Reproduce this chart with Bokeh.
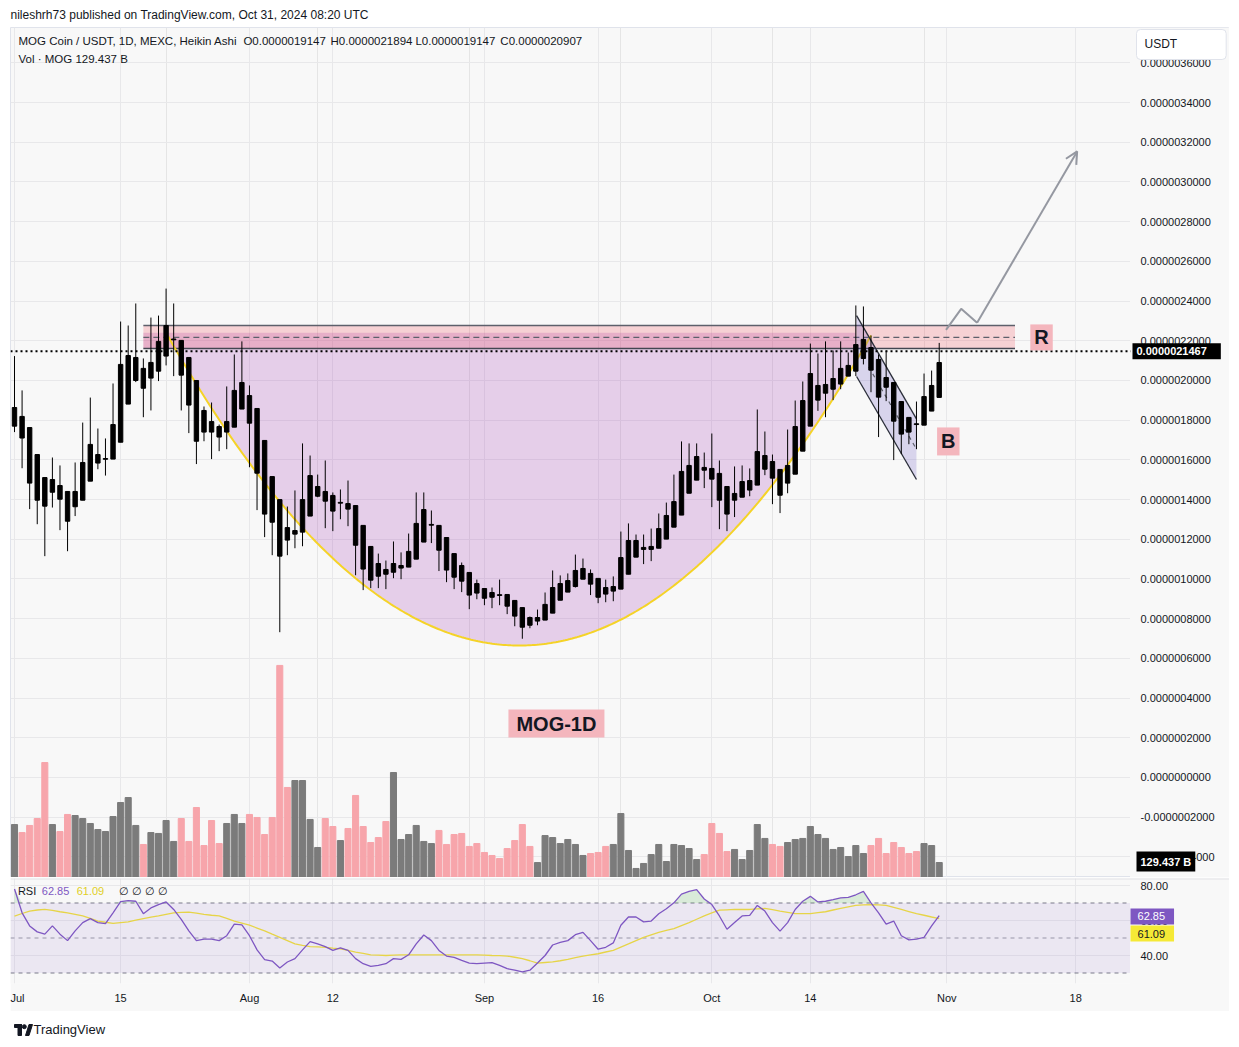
import numpy as np
import pandas as pd
from bokeh.plotting import figure
from bokeh.layouts import column, row
from bokeh.models import (Range1d, FixedTicker, PrintfTickFormatter, Label, Span,
                          BoxAnnotation, Arrow, OpenHead, Grid, Spacer)
from bokeh.embed import file_html
from bokeh.resources import INLINE

FONT = "Liberation Sans"
BG = "#f8f8f8"
TEXT = "#131722"
SCALE = 1e-6  # prices below are in micro-USDT

START = "2024-07-01"
dates = pd.date_range(START, "2024-10-31", freq="D")
days = np.array((dates - pd.Timestamp(START)).days, dtype=float)

# ---- Heikin Ashi candles (x 1e-6 USDT) ----
ha_open = [1.864, 1.819, 1.763, 1.627, 1.511, 1.501, 1.471, 1.441, 1.364, 1.397,
           1.493, 1.584, 1.603, 1.604, 1.689, 1.881, 2.116, 2.061, 2.012, 2.047,
           2.123, 2.209, 2.202, 2.116, 2.000, 1.849, 1.793, 1.768, 1.740, 1.765,
           1.856, 1.924, 1.859, 1.698, 1.516, 1.400, 1.196, 1.226, 1.236, 1.317,
           1.417, 1.441, 1.421, 1.382, 1.352, 1.370, 1.270, 1.164, 1.078, 1.024,
           1.034, 1.055, 1.060, 1.100, 1.186, 1.275, 1.270, 1.209, 1.128, 1.068,
           1.033, 0.929, 0.952, 0.932, 0.921, 0.922, 0.892, 0.856, 0.767, 0.788,
           0.793, 0.828, 0.893, 0.934, 0.962, 0.999, 1.028, 1.003, 0.924, 0.939,
           0.949, 1.024, 1.110, 1.149, 1.149, 1.155, 1.201, 1.261, 1.322, 1.432,
           1.498, 1.562, 1.557, 1.532, 1.466, 1.397, 1.412, 1.448, 1.473, 1.622,
           1.592, 1.552, 1.483, 1.528, 1.644, 1.770, 1.975, 1.936, 1.956, 1.982,
           2.022, 2.047, 2.111, 2.166, 2.106, 2.015, 1.990, 1.894, 1.814, 1.778,
           1.775, 1.846, 1.9147]
ha_high = [2.123, 1.950, 1.763, 1.627, 1.511, 1.612, 1.572, 1.441, 1.587, 1.788,
           1.914, 1.758, 1.708, 1.985, 2.297, 2.277, 2.388, 2.111, 2.317, 2.327,
           2.463, 2.388, 2.202, 2.116, 2.000, 1.869, 1.889, 1.778, 1.970, 2.131,
           2.197, 1.975, 1.859, 1.698, 1.516, 1.400, 1.365, 1.446, 1.683, 1.622,
           1.526, 1.597, 1.436, 1.451, 1.496, 1.370, 1.270, 1.164, 1.128, 1.093,
           1.189, 1.134, 1.229, 1.436, 1.436, 1.345, 1.270, 1.209, 1.128, 1.083,
           1.033, 0.997, 0.952, 0.957, 0.997, 0.922, 0.892, 0.856, 0.811, 0.846,
           0.932, 1.043, 1.018, 1.028, 1.123, 1.103, 1.048, 1.003, 0.997, 1.013,
           1.239, 1.280, 1.224, 1.224, 1.254, 1.330, 1.385, 1.526, 1.693, 1.683,
           1.683, 1.637, 1.733, 1.597, 1.466, 1.567, 1.572, 1.557, 1.854, 1.743,
           1.627, 1.552, 1.753, 1.899, 1.995, 2.186, 2.136, 2.197, 2.151, 2.197,
           2.141, 2.378, 2.373, 2.227, 2.131, 2.151, 1.990, 1.894, 1.814, 1.894,
           2.035, 2.050, 2.1894]
ha_low = [1.740, 1.558, 1.352, 1.276, 1.115, 1.360, 1.246, 1.140, 1.317, 1.397,
          1.493, 1.553, 1.521, 1.604, 1.689, 1.881, 1.992, 1.815, 1.849, 1.997,
          2.076, 2.022, 1.849, 1.735, 1.579, 1.694, 1.604, 1.644, 1.654, 1.765,
          1.856, 1.563, 1.347, 1.211, 1.120, 0.732, 1.120, 1.155, 1.165, 1.317,
          1.412, 1.256, 1.241, 1.301, 1.266, 1.019, 0.944, 0.954, 0.954, 0.949,
          1.004, 0.999, 1.060, 1.100, 1.186, 1.181, 1.040, 0.984, 0.949, 0.934,
          0.848, 0.898, 0.868, 0.853, 0.868, 0.823, 0.762, 0.699, 0.752, 0.767,
          0.793, 0.828, 0.893, 0.934, 0.957, 0.999, 0.919, 0.878, 0.883, 0.888,
          0.949, 1.024, 1.110, 1.075, 1.090, 1.155, 1.201, 1.261, 1.322, 1.432,
          1.498, 1.458, 1.362, 1.251, 1.241, 1.312, 1.412, 1.417, 1.473, 1.523,
          1.377, 1.332, 1.432, 1.528, 1.644, 1.770, 1.847, 1.815, 1.901, 1.956,
          2.022, 2.022, 2.081, 1.941, 1.715, 1.896, 1.599, 1.629, 1.679, 1.654,
          1.775, 1.846, 1.9147]
ha_close = [1.770, 1.710, 1.483, 1.397, 1.367, 1.437, 1.402, 1.291, 1.441, 1.587,
            1.678, 1.627, 1.607, 1.778, 2.081, 2.126, 2.000, 1.961, 2.091, 2.197,
            2.277, 2.205, 2.027, 1.876, 1.694, 1.740, 1.740, 1.715, 1.793, 1.950,
            1.990, 1.785, 1.533, 1.327, 1.286, 1.115, 1.259, 1.244, 1.400, 1.521,
            1.466, 1.392, 1.342, 1.386, 1.380, 1.170, 1.050, 0.994, 1.014, 1.048,
            1.078, 1.068, 1.139, 1.280, 1.350, 1.271, 1.145, 1.045, 1.009, 0.989,
            0.919, 0.977, 0.903, 0.908, 0.917, 0.863, 0.813, 0.757, 0.806, 0.806,
            0.872, 0.957, 0.977, 0.992, 1.043, 1.053, 0.974, 0.908, 0.957, 0.962,
            1.108, 1.194, 1.194, 1.159, 1.164, 1.254, 1.320, 1.390, 1.542, 1.572,
            1.617, 1.548, 1.503, 1.397, 1.327, 1.431, 1.491, 1.496, 1.642, 1.553,
            1.508, 1.422, 1.572, 1.768, 1.899, 2.035, 1.901, 1.980, 2.010, 2.061,
            2.076, 2.181, 2.207, 2.052, 1.916, 1.966, 1.795, 1.730, 1.740, 1.782,
            1.919, 1.975, 2.0907]

# ---- Volume (billions of MOG) and bar direction (1 = grey, 0 = red) ----
volume = [457, 388, 449, 509, 992, 457, 397, 544, 535, 509,
          466, 414, 397, 526, 647, 690, 449, 285, 388, 380,
          492, 311, 509, 311, 604, 276, 492, 293, 466, 544,
          466, 544, 518, 371, 518, 1830, 777, 837, 837, 501,
          259, 509, 440, 319, 423, 708, 440, 302, 345, 483,
          906, 328, 371, 449, 311, 293, 406, 285, 371, 380,
          268, 293, 216, 190, 164, 250, 319, 457, 268, 129,
          362, 345, 293, 328, 285, 190, 207, 216, 268, 285,
          552, 233, 78, 121, 198, 285, 138, 285, 276, 250,
          155, 198, 466, 380, 224, 242, 155, 233, 457, 337,
          285, 268, 302, 328, 337, 440, 371, 337, 242, 259,
          181, 276, 207, 276, 337, 207, 302, 259, 207, 224,
          293, 276, 129.437]
vol_up = [1, 0, 0, 0, 0, 1, 0, 0, 1, 1,
          1, 1, 1, 1, 1, 1, 1, 0, 1, 1,
          1, 1, 0, 0, 0, 0, 0, 0, 1, 1,
          1, 0, 0, 0, 0, 0, 0, 1, 1, 1,
          1, 0, 0, 1, 0, 0, 0, 0, 0, 0,
          1, 1, 1, 1, 1, 1, 0, 0, 0, 0,
          0, 0, 0, 0, 0, 0, 0, 0, 0, 1,
          1, 1, 1, 1, 1, 1, 0, 0, 0, 1,
          1, 1, 1, 1, 1, 1, 1, 1, 1, 1,
          1, 0, 0, 0, 0, 1, 1, 1, 1, 1,
          0, 0, 1, 1, 1, 1, 1, 1, 1, 1,
          1, 1, 1, 0, 0, 0, 0, 0, 0, 0,
          1, 1, 1]

# ---- RSI(14) and its moving average ----
rsi = [78.0, 64.4, 56.9, 53.5, 52.2, 56.9, 52.2, 48.5, 54.1, 58.8,
       61.1, 58.8, 58.2, 64.4, 70.8, 71.4, 71.0, 63.9, 67.2, 69.1,
       70.6, 66.3, 60.7, 54.1, 48.5, 49.4, 49.4, 48.5, 51.3, 57.9,
       57.5, 51.3, 43.2, 37.6, 36.8, 32.9, 36.3, 38.2, 43.2, 47.9,
       46.6, 45.1, 42.9, 44.4, 42.9, 38.2, 35.3, 33.8, 34.4, 35.3,
       38.2, 37.8, 40.4, 46.6, 51.7, 48.5, 42.9, 39.7, 38.9, 37.2,
       35.7, 35.3, 35.7, 35.9, 34.4, 32.5, 31.6, 30.7, 31.6, 35.7,
       40.0, 46.0, 47.5, 48.5, 51.9, 53.2, 48.5, 43.6, 44.7, 47.2,
       57.3, 62.0, 62.0, 59.2, 59.7, 63.9, 66.7, 70.1, 75.1, 76.6,
       77.6, 72.3, 69.1, 62.6, 55.0, 58.8, 62.6, 62.9, 68.6, 65.4,
       58.8, 53.9, 58.8, 66.3, 71.0, 73.8, 70.6, 71.0, 71.9, 72.9,
       73.2, 74.7, 76.6, 70.1, 64.4, 57.9, 59.7, 51.3, 48.9, 49.4,
       50.4, 56.9, 62.85]
rsi_ma = [62.5, 64.0, 65.4, 66.0, 66.3, 65.8, 65.0, 64.4, 63.5, 62.6,
          61.2, 59.7, 59.0, 58.4, 58.8, 59.2, 60.2, 61.1, 61.9, 62.6,
          63.5, 64.4, 64.6, 64.8, 64.2, 63.5, 63.0, 62.6, 61.2, 59.7,
          58.5, 57.3, 55.7, 54.1, 52.2, 50.4, 48.5, 46.6, 45.8, 45.1,
          44.9, 44.7, 44.2, 43.8, 42.9, 41.9, 41.2, 40.4, 40.2, 40.0,
          40.2, 40.4, 40.4, 40.4, 40.4, 40.4, 40.4, 40.4, 40.4, 40.4,
          40.4, 40.4, 40.2, 40.0, 39.9, 39.7, 39.0, 38.2, 37.0, 35.7,
          36.0, 36.3, 37.0, 37.8, 38.8, 39.7, 40.4, 41.0, 42.0, 42.9,
          44.8, 46.6, 48.5, 50.4, 51.8, 53.2, 54.3, 55.4, 57.1, 58.8,
          60.7, 62.6, 64.3, 65.9, 66.1, 66.3, 66.3, 66.3, 66.6, 66.9,
          66.2, 65.4, 64.7, 63.9, 63.9, 63.9, 64.5, 65.0, 66.0, 66.9,
          67.8, 68.6, 68.9, 69.1, 68.9, 68.6, 67.5, 66.3, 65.1, 63.9,
          63.0, 62.0, 61.09]

# ---- axis ticks ----
tick_dates = ["2024-07-01", "2024-07-15", "2024-08-01", "2024-08-12", "2024-09-01",
              "2024-09-16", "2024-10-01", "2024-10-14", "2024-11-01", "2024-11-18"]
tick_labels = ["Jul", "15", "Aug", "12", "Sep", "16", "Oct", "14", "Nov", "18"]
tick_days = [int((pd.Timestamp(d) - pd.Timestamp(START)).days) for d in tick_dates]
price_ticks = [round(-0.4 + 0.2 * k, 1) * SCALE for k in range(21)]
rsi_ticks = [40, 60, 80]
rsi_levels = [70, 50, 30]

last_price = 2.1467
last_volume_label = "129.437 B"
ohlc_texts = ["O0.0000019147", "H0.0000021894", "L0.0000019147", "C0.0000020907"]

# ---- drawings (day index, micro-USDT) ----
ZONE_L, ZONE_R, ZONE_BOT, ZONE_MID, ZONE_TOP = 17.0, 132.0, 2.161, 2.217, 2.277
PURPLE_R, PURPLE_TOP = 111.0, 2.240
CUP_L, CUP_R, CUP_BOTTOM, CUP_RIM = 20.2, 113.0, 0.665, 2.227
CH_X0, CH_X1 = 111.1, 119.0
CH_UP = (2.327, 1.807)
CH_LO = (2.020, 1.501)
ARROW_X = [122.9, 124.9, 127.0, 140.2]
ARROW_Y = [2.255, 2.361, 2.291, 3.154]

# view window (days); the price scale column sits at the right end of it
X_LEFT, X_PLOT_END, X_RIGHT = -0.528, 146.97, 160.30
OHLC_X = [30.2, 41.7, 52.9, 64.1]

ops = np.array(ha_open) * SCALE
his = np.array(ha_high) * SCALE
los = np.array(ha_low) * SCALE
cls = np.array(ha_close) * SCALE
body_top = np.maximum(ops, cls)
body_bot = np.minimum(ops, cls)

X_RANGE = Range1d(X_LEFT, X_RIGHT)
STANDOFF = -89

def style_right_axis(ax):
    ax.major_label_text_font = FONT
    ax.major_label_text_font_size = "11px"
    ax.major_label_text_color = TEXT
    ax.major_tick_line_color = None
    ax.minor_tick_line_color = None
    ax.axis_line_color = None
    ax.major_tick_out = 0
    ax.major_tick_in = 0
    ax.major_label_standoff = STANDOFF

def badge(fig, x, y, text, bg, fg, pad, bold=True, size="11px", **kw):
    fig.add_layout(Label(x=x, y=y, text=text, text_font=FONT, text_font_size=size,
                         text_font_style="bold" if bold else "normal", text_color=fg,
                         text_baseline="middle", text_align="left",
                         background_fill_color=bg, padding=pad, **kw))

# ================= title strip =================
pt = figure(width=1239, height=27, x_range=Range1d(0, 1239), y_range=Range1d(0, 27),
            output_backend="svg", toolbar_location=None, x_axis_location=None,
            y_axis_location=None, min_border=0, background_fill_color="white",
            border_fill_color="white", outline_line_color=None)
pt.grid.visible = False
pt.add_layout(Label(x=10, y=13, text="nileshrh73 published on TradingView.com, Oct 31, 2024 08:20 UTC",
                    text_font=FONT, text_font_size="12px", text_color=TEXT,
                    text_baseline="middle", text_align="left"))

# ================= price pane =================
p = figure(width=1219, height=850, x_range=X_RANGE,
           y_range=Range1d(-0.5038 * SCALE, 3.7783 * SCALE),
           output_backend="svg", toolbar_location=None, x_axis_location=None,
           y_axis_location="right", min_border=0, background_fill_color=BG,
           border_fill_color=BG, outline_line_color="#e0e3eb")
p.extra_y_ranges = {"vol": Range1d(0, 7335)}
p.yaxis.ticker = FixedTicker(ticks=price_ticks)
p.yaxis.formatter = PrintfTickFormatter(format="%.10f")
style_right_axis(p.yaxis)
p.ygrid.grid_line_color = "#e8e8ea"
p.add_layout(Grid(dimension=0, ticker=FixedTicker(ticks=tick_days), grid_line_color="#e8e8ea"))
p.add_layout(BoxAnnotation(left=X_PLOT_END + 0.2, fill_color=BG, fill_alpha=1.0,
                           line_color=None, level="underlay"))

# volume
vol_colors = ["#7b7b7b" if u else "#f7a5ab" for u in vol_up]
p.vbar(x=days, top=volume, bottom=0, width=0.8, color=vol_colors, y_range_name="vol")

# cup fill + resistance zone
t = np.linspace(PURPLE_R, CUP_L, 200)
half = (CUP_R - CUP_L) / 2.0
mid = (CUP_R + CUP_L) / 2.0
arc_y = CUP_BOTTOM + (CUP_RIM - CUP_BOTTOM) * ((t - mid) / half) ** 2
poly_x = [ZONE_L, PURPLE_R] + list(t) + [ZONE_L]
poly_y = [PURPLE_TOP, PURPLE_TOP] + list(np.minimum(arc_y, ZONE_BOT)) + [ZONE_BOT]
p.patch(np.array(poly_x), np.array(poly_y) * SCALE, fill_color="#9c27b0", fill_alpha=0.2, line_color=None)
p.quad(left=ZONE_L, right=ZONE_R, bottom=ZONE_BOT * SCALE, top=ZONE_TOP * SCALE,
       fill_color="#f23645", fill_alpha=0.2, line_color=None)
p.segment(x0=ZONE_L, x1=ZONE_R, y0=ZONE_TOP * SCALE, y1=ZONE_TOP * SCALE, line_color="#5d606b", line_width=1.5)
p.segment(x0=ZONE_L, x1=ZONE_R, y0=ZONE_BOT * SCALE, y1=ZONE_BOT * SCALE, line_color="#434651", line_width=1.5)
p.segment(x0=ZONE_L, x1=ZONE_R, y0=ZONE_MID * SCALE, y1=ZONE_MID * SCALE, line_color="#5d606b",
          line_width=1.2, line_dash="6 4")

# cup arc
ta = np.linspace(CUP_L, CUP_R, 300)
arc = CUP_BOTTOM + (CUP_RIM - CUP_BOTTOM) * ((ta - mid) / half) ** 2
p.line(ta, arc * SCALE, line_color="#f5d327", line_width=2)

# channel (flag)
p.patch([CH_X0, CH_X1, CH_X1, CH_X0],
        np.array([CH_UP[0], CH_UP[1], CH_LO[1], CH_LO[0]]) * SCALE,
        fill_color="#5844bc", fill_alpha=0.2, line_color=None)
p.line([CH_X0, CH_X1], np.array(CH_UP) * SCALE, line_color="#2a2e39", line_width=1.3)
p.line([CH_X0, CH_X1], np.array(CH_LO) * SCALE, line_color="#2a2e39", line_width=1.3)
cm0 = CH_X0 + 1.6
frac = (cm0 - CH_X0) / (CH_X1 - CH_X0)
mid0 = (CH_UP[0] + CH_LO[0]) / 2 + frac * ((CH_UP[1] + CH_LO[1]) / 2 - (CH_UP[0] + CH_LO[0]) / 2)
p.line([cm0, CH_X1], np.array([mid0, (CH_UP[1] + CH_LO[1]) / 2]) * SCALE,
       line_color="#5d606b", line_width=1.2, line_dash="4 4")

# candles
p.segment(x0=days, x1=days, y0=los, y1=his, line_color="black", line_width=1)
p.vbar(x=days, top=body_top, bottom=body_bot, width=0.58, fill_color="black",
       line_color="black", line_width=1)

# last price dotted line
p.segment(x0=X_LEFT, x1=X_PLOT_END + 0.3, y0=last_price * SCALE, y1=last_price * SCALE,
          line_color="black", line_width=2, line_dash="2 3")

# projection arrow
GRAY = "#9598a1"
p.line(ARROW_X[:3], np.array(ARROW_Y[:3]) * SCALE, line_color=GRAY, line_width=2)
p.add_layout(Arrow(end=OpenHead(size=12, line_color=GRAY, line_width=2),
                   x_start=ARROW_X[2], y_start=ARROW_Y[2] * SCALE,
                   x_end=ARROW_X[3], y_end=ARROW_Y[3] * SCALE,
                   line_color=GRAY, line_width=2))

# labels on chart
PINK = "#f4b6bd"
def box_label(fig, x, y, text, size, pad):
    fig.add_layout(Label(x=x, y=y, text=text, text_font=FONT, text_font_size=size,
                         text_font_style="bold", text_color=TEXT, text_align="center",
                         text_baseline="middle", background_fill_color=PINK,
                         padding=pad))

box_label(p, 135.5, 2.217 * SCALE, "R", "20px", dict(left=4, right=4, top=2, bottom=2))
box_label(p, 123.2, 1.693 * SCALE, "B", "20px", dict(left=4, right=4, top=3, bottom=3))
box_label(p, 71.5, 0.272 * SCALE, "MOG-1D", "20px", dict(left=8, right=8, top=3, bottom=3))

# legend text
p.add_layout(Label(x=0.53, y=3.708 * SCALE, text="MOG Coin / USDT, 1D, MEXC, Heikin Ashi",
                   text_font=FONT, text_font_size="11.5px", text_color=TEXT,
                   text_baseline="middle", text_align="left"))
for ox, otxt in zip(OHLC_X, ohlc_texts):
    p.add_layout(Label(x=ox, y=3.708 * SCALE, text=otxt,
                       text_font=FONT, text_font_size="11.5px", text_color=TEXT,
                       text_baseline="middle", text_align="left"))
p.add_layout(Label(x=0.53, y=3.622 * SCALE, text="Vol · MOG  129.437 B",
                   text_font=FONT, text_font_size="11.5px", text_color=TEXT,
                   text_baseline="middle", text_align="left"))

# price-scale badges (anchor = left edge of the badge)
badge(p, 148.03, 3.6927 * SCALE, "USDT", "white", TEXT, dict(left=8, right=49, top=8, bottom=8),
      bold=False, size="12px", border_line_color="#e0e3eb", border_radius=4)
badge(p, 147.50, last_price * SCALE, "0.0000021467", "black", "white",
      dict(left=4, right=14, top=4, bottom=4))
badge(p, 148.03, -0.4232 * SCALE, last_volume_label, "black", "white",
      dict(left=4, right=4, top=4, bottom=4))

# ================= RSI pane =================
r = figure(width=1219, height=134, x_range=X_RANGE, y_range=Range1d(24, 84),
           output_backend="svg", toolbar_location=None, y_axis_location="right",
           min_border_left=0, min_border_right=0, min_border_top=1, min_border_bottom=28,
           background_fill_color=BG, border_fill_color=BG, outline_line_color=None)
r.yaxis.ticker = FixedTicker(ticks=rsi_ticks)
r.yaxis.formatter = PrintfTickFormatter(format="%.2f")
style_right_axis(r.yaxis)
r.xaxis.ticker = FixedTicker(ticks=tick_days)
r.xaxis.major_label_overrides = {d: l for d, l in zip(tick_days, tick_labels)}
r.xaxis.major_label_text_font = FONT
r.xaxis.major_label_text_font_size = "11px"
r.xaxis.major_label_text_color = TEXT
r.xaxis.major_tick_line_color = None
r.xaxis.minor_tick_line_color = None
r.xaxis.axis_line_color = None
r.xaxis.major_tick_out = 0
r.xaxis.major_label_standoff = 8
r.xgrid.grid_line_color = "#e8e8ea"
r.ygrid.grid_line_color = "#e8e8ea"
r.add_layout(BoxAnnotation(left=X_PLOT_END + 0.2, fill_color=BG, fill_alpha=1.0,
                           line_color=None, level="underlay"))

r.add_layout(BoxAnnotation(left=X_LEFT, right=X_PLOT_END + 0.2, bottom=30, top=70,
                           fill_color="#7e57c2", fill_alpha=0.1, line_color=None))
r.segment(x0=X_LEFT, x1=X_PLOT_END + 0.2, y0=rsi_levels, y1=rsi_levels,
          line_color=["#787b86", "#9a9ca5", "#787b86"], line_width=1, line_dash="4 4")
rsi_arr = np.array(rsi)
r.varea(x=days, y1=70, y2=np.maximum(rsi_arr, 70), fill_color="#4caf50", fill_alpha=0.18)
r.line(days, rsi_ma, line_color="#f2e33a", line_width=1.3)
r.line(days, rsi_arr, line_color="#7e57c2", line_width=1.3)
r.add_layout(Span(location=83.8, dimension="width", line_color="#d9d9e0", line_width=1))

lx = [0.45, 3.6, 8.2, 13.8]
r.add_layout(Label(x=lx[0], y=76.6, text="RSI", text_font=FONT, text_font_size="11px",
                   text_color=TEXT, text_baseline="middle"))
r.add_layout(Label(x=lx[1], y=76.6, text="62.85", text_font=FONT, text_font_size="11px",
                   text_color="#7e57c2", text_baseline="middle"))
r.add_layout(Label(x=lx[2], y=76.6, text="61.09", text_font=FONT, text_font_size="11px",
                   text_color="#e0cf1f", text_baseline="middle"))
r.add_layout(Label(x=lx[3], y=76.6, text="∅  ∅  ∅  ∅", text_font=FONT, text_font_size="11px",
                   text_color=TEXT, text_baseline="middle"))
badge(r, 147.24, 62.29, "62.85", "#7e57c2", "white", dict(left=7, right=9, top=4, bottom=4), bold=False)
badge(r, 147.24, 52.57, "61.09", "#f5e936", TEXT, dict(left=7, right=9, top=4, bottom=4), bold=False)

# ================= footer =================
pf = figure(width=1239, height=36, x_range=Range1d(0, 1239), y_range=Range1d(0, 36),
            output_backend="svg", toolbar_location=None, x_axis_location=None,
            y_axis_location=None, min_border=0, background_fill_color="white",
            border_fill_color="white", outline_line_color=None)
pf.grid.visible = False
pf.quad(left=[14, 17.5], right=[21, 21], bottom=[20, 12], top=[23, 23], color=TEXT)
pf.scatter([23.8], [20.8], size=4, color=TEXT)
pf.patch([25, 28.5, 32, 28.5], [12, 12, 23, 23], color=TEXT)
pf.add_layout(Label(x=33, y=18, text="TradingView", text_font=FONT, text_font_size="13px",
                    text_color=TEXT, text_baseline="middle"))

layout = column(pt, row(Spacer(width=10, height=984), column(p, r, spacing=0), spacing=0), pf, spacing=0)
open("out.html", "w").write(file_html(layout, INLINE))
